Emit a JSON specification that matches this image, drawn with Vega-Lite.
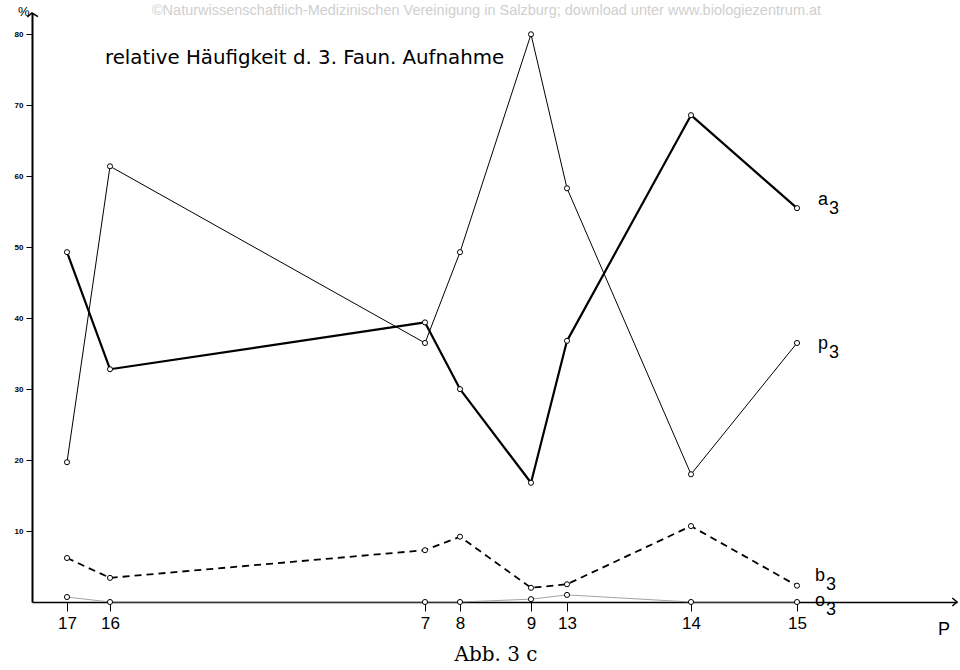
{
  "$schema": "https://vega.github.io/schema/vega-lite/v6.json",
  "width": 925,
  "height": 589,
  "autosize": {"type": "none"},
  "padding": {"left": 32, "top": 13, "right": 3, "bottom": 68},
  "background": "white",
  "config": {"view": {"stroke": null}, "font": "Liberation Sans"},
  "title": {
    "text": "©Naturwissenschaftlich-Medizinischen Vereinigung in Salzburg; download unter www.biologiezentrum.at",
    "color": "#cfcfcf", "fontSize": 14.5, "fontWeight": "normal", "font": "Liberation Sans",
    "anchor": "middle", "dx": -8, "offset": -12, "orient": "top", "frame": "group"
  },
  "datasets": {
    "series": [
      {"station": "17", "pos": 35, "series": "a", "value": 49.3},
      {"station": "16", "pos": 78, "series": "a", "value": 32.8},
      {"station": "7", "pos": 393, "series": "a", "value": 39.4},
      {"station": "8", "pos": 428, "series": "a", "value": 30.0},
      {"station": "9", "pos": 499, "series": "a", "value": 16.8},
      {"station": "13", "pos": 535, "series": "a", "value": 36.8},
      {"station": "14", "pos": 659, "series": "a", "value": 68.6},
      {"station": "15", "pos": 765, "series": "a", "value": 55.5},
      {"station": "17", "pos": 35, "series": "p", "value": 19.7},
      {"station": "16", "pos": 78, "series": "p", "value": 61.4},
      {"station": "7", "pos": 393, "series": "p", "value": 36.5},
      {"station": "8", "pos": 428, "series": "p", "value": 49.3},
      {"station": "9", "pos": 499, "series": "p", "value": 80.0},
      {"station": "13", "pos": 535, "series": "p", "value": 58.3},
      {"station": "14", "pos": 659, "series": "p", "value": 18.0},
      {"station": "15", "pos": 765, "series": "p", "value": 36.5},
      {"station": "17", "pos": 35, "series": "b", "value": 6.2},
      {"station": "16", "pos": 78, "series": "b", "value": 3.4},
      {"station": "7", "pos": 393, "series": "b", "value": 7.3},
      {"station": "8", "pos": 428, "series": "b", "value": 9.2},
      {"station": "9", "pos": 499, "series": "b", "value": 2.0},
      {"station": "13", "pos": 535, "series": "b", "value": 2.5},
      {"station": "14", "pos": 659, "series": "b", "value": 10.7},
      {"station": "15", "pos": 765, "series": "b", "value": 2.3},
      {"station": "17", "pos": 35, "series": "o", "value": 0.7},
      {"station": "16", "pos": 78, "series": "o", "value": 0.0},
      {"station": "7", "pos": 393, "series": "o", "value": 0.0},
      {"station": "8", "pos": 428, "series": "o", "value": 0.0},
      {"station": "9", "pos": 499, "series": "o", "value": 0.4},
      {"station": "13", "pos": 535, "series": "o", "value": 1.0},
      {"station": "14", "pos": 659, "series": "o", "value": 0.0},
      {"station": "15", "pos": 765, "series": "o", "value": 0.0}
    ],
    "labels": [
      {"letter": "a", "pos": 786, "value": 56.6},
      {"letter": "p", "pos": 786, "value": 36.4},
      {"letter": "b", "pos": 783, "value": 3.7},
      {"letter": "o", "pos": 783, "value": 0.1}
    ],
    "caption": [{"text": "relative Häufigkeit d. 3. Faun. Aufnahme", "pos": 73, "value": 76.6}],
    "pct": [{"text": "%", "pos": -14, "value": 83.1}],
    "pLabel": [{"text": "P", "pos": 906, "value": -4.0}],
    "fig": [{"text": "Abb. 3 c", "pos": 464, "value": -7.5}],
    "arrows": [
      {"pos": 0, "value": 83, "dir": "up"},
      {"pos": 925, "value": 0, "dir": "right"}
    ]
  },
  "layer": [
    {
      "data": {"name": "series"},
      "transform": [{"filter": "datum.series == 'o'"}],
      "mark": {"type": "line", "stroke": "#8a8a8a", "strokeWidth": 0.8},
      "encoding": {
        "x": {
          "field": "pos", "type": "quantitative",
          "scale": {"domain": [0, 925], "nice": false, "zero": false},
          "axis": {
            "title": null, "values": [35, 78, 393, 428, 499, 535, 659, 765],
            "labelExpr": "datum.value == 35 ? '17' : datum.value == 78 ? '16' : datum.value == 393 ? '7' : datum.value == 428 ? '8' : datum.value == 499 ? '9' : datum.value == 535 ? '13' : datum.value == 659 ? '14' : '15'",
            "grid": false, "domainColor": "black", "domainWidth": 1.5,
            "tickColor": "black", "tickSize": 9, "tickWidth": 1,
            "labelFontSize": 17, "labelColor": "black", "labelPadding": 4, "labelFont": "Liberation Sans"
          }
        },
        "y": {
          "field": "value", "type": "quantitative",
          "scale": {"domain": [0, 83], "nice": false},
          "axis": {
            "title": null, "values": [10, 20, 30, 40, 50, 60, 70, 80],
            "grid": false, "domainColor": "black", "domainWidth": 2,
            "tickColor": "black", "tickSize": 6, "tickWidth": 1,
            "labelFontSize": 8, "labelFontWeight": "bold", "labelColor": "black", "labelPadding": 3
          }
        }
      }
    },
    {
      "data": {"name": "series"},
      "transform": [{"filter": "datum.series == 'b'"}],
      "mark": {"type": "line", "stroke": "black", "strokeWidth": 1.8, "strokeDash": [7, 5]},
      "encoding": {
        "x": {"field": "pos", "type": "quantitative"},
        "y": {"field": "value", "type": "quantitative"}
      }
    },
    {
      "data": {"name": "series"},
      "transform": [{"filter": "datum.series == 'p'"}],
      "mark": {"type": "line", "stroke": "black", "strokeWidth": 1},
      "encoding": {
        "x": {"field": "pos", "type": "quantitative"},
        "y": {"field": "value", "type": "quantitative"}
      }
    },
    {
      "data": {"name": "series"},
      "transform": [{"filter": "datum.series == 'a'"}],
      "mark": {"type": "line", "stroke": "black", "strokeWidth": 2.2, "strokeJoin": "round"},
      "encoding": {
        "x": {"field": "pos", "type": "quantitative"},
        "y": {"field": "value", "type": "quantitative"}
      }
    },
    {
      "data": {"name": "series"},
      "mark": {"type": "point", "shape": "circle", "filled": false, "fill": "white", "stroke": "black", "strokeWidth": 1, "size": 26, "opacity": 1},
      "encoding": {
        "x": {"field": "pos", "type": "quantitative"},
        "y": {"field": "value", "type": "quantitative"}
      }
    },
    {
      "data": {"name": "labels"},
      "mark": {"type": "text", "fontSize": 18, "align": "left", "baseline": "middle", "font": "Liberation Sans"},
      "encoding": {
        "x": {"field": "pos", "type": "quantitative"},
        "y": {"field": "value", "type": "quantitative"},
        "text": {"field": "letter"}
      }
    },
    {
      "data": {"name": "labels"},
      "mark": {"type": "text", "fontSize": 18, "align": "left", "baseline": "middle", "dx": 11, "dy": 9, "font": "Liberation Sans"},
      "encoding": {
        "x": {"field": "pos", "type": "quantitative"},
        "y": {"field": "value", "type": "quantitative"},
        "text": {"value": "3"}
      }
    },
    {
      "data": {"name": "caption"},
      "mark": {"type": "text", "align": "left", "baseline": "middle", "font": "DejaVu Sans", "fontSize": 19.8, "color": "black"},
      "encoding": {
        "x": {"field": "pos", "type": "quantitative"},
        "y": {"field": "value", "type": "quantitative"},
        "text": {"field": "text"}
      }
    },
    {
      "data": {"name": "pct"},
      "mark": {"type": "text", "align": "left", "baseline": "middle", "font": "Liberation Sans", "fontSize": 13, "color": "black"},
      "encoding": {
        "x": {"field": "pos", "type": "quantitative"},
        "y": {"field": "value", "type": "quantitative"},
        "text": {"field": "text"}
      }
    },
    {
      "data": {"name": "pLabel"},
      "mark": {"type": "text", "align": "left", "baseline": "middle", "font": "Liberation Sans", "fontSize": 18, "color": "black"},
      "encoding": {
        "x": {"field": "pos", "type": "quantitative"},
        "y": {"field": "value", "type": "quantitative"},
        "text": {"field": "text"}
      }
    },
    {
      "data": {"name": "fig"},
      "mark": {"type": "text", "align": "center", "baseline": "middle", "font": "DejaVu Serif", "fontSize": 20, "color": "black"},
      "encoding": {
        "x": {"field": "pos", "type": "quantitative"},
        "y": {"field": "value", "type": "quantitative"},
        "text": {"field": "text"}
      }
    },
    {
      "data": {"name": "arrows"},
      "mark": {"type": "point", "filled": false, "stroke": "black", "strokeWidth": 1.5, "size": 180, "opacity": 1},
      "encoding": {
        "x": {"field": "pos", "type": "quantitative"},
        "y": {"field": "value", "type": "quantitative"},
        "shape": {"field": "dir", "type": "nominal", "legend": null,
          "scale": {"domain": ["up", "right"], "range": ["M-0.7,0.6L0,0L0.9,0.55", "M-0.7,-0.6L0,0L-0.7,0.6"]}}
      }
    }
  ]
}
